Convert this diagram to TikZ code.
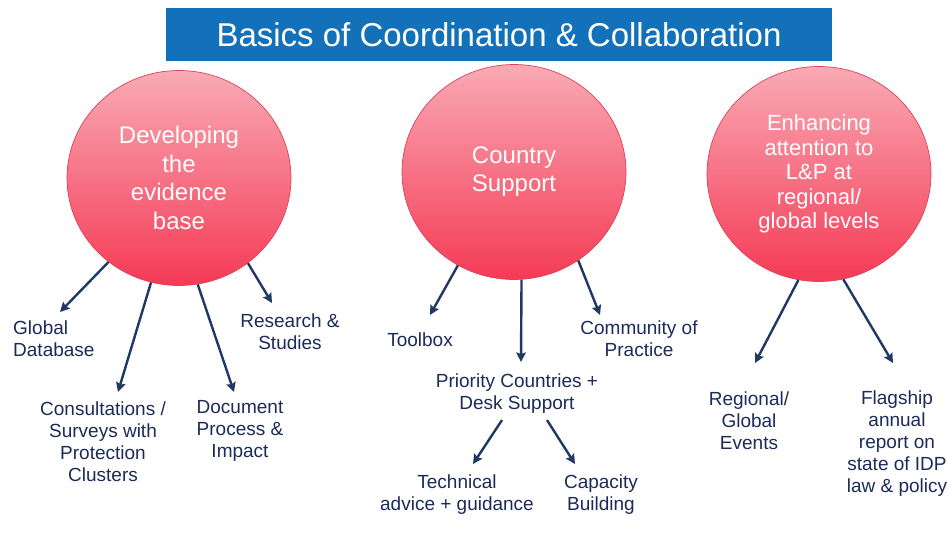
\documentclass[tikz,border=0pt]{standalone}
\usepackage{fontspec}
\setmainfont{Liberation Sans}
\usetikzlibrary{arrows.meta,shapes.geometric}

\definecolor{titleblue}{HTML}{1371B9}
\definecolor{navy}{HTML}{1C2B5A}
\definecolor{arrownavy}{HTML}{1F3864}
\definecolor{pinktop}{HTML}{F9AAB5}
\definecolor{pinkbot}{HTML}{F53A55}
\definecolor{pinkedge}{HTML}{D9435A}

\tikzset{
  titlebar/.style={fill=titleblue, text=white, minimum width=666pt, minimum height=53pt,
    inner sep=0pt, font=\fontsize{33}{36}\selectfont},
  topic/.style={ellipse, draw=pinkedge, line width=0.7pt, top color=pinktop, bottom color=pinkbot,
    minimum width=224pt, minimum height=215pt, inner sep=0pt, text=white, align=center},
  item/.style={text=navy, align=center, font=\fontsize{19}{22}\selectfont, inner sep=0pt},
  arr/.style={draw=arrownavy, line width=2.4pt, -{Stealth[length=9.5pt,width=9.5pt,inset=1.5pt]}},
}

\begin{document}
\begin{tikzpicture}[x=1pt,y=-1pt]
  \useasboundingbox (0,0) rectangle (948,549);
  \fill[white] (0,0) rectangle (948,549);

  % title bar
  \node[titlebar] (title) at (499,34.5) {Basics of Coordination \& Collaboration};

  % three topic circles
  \node[topic, font=\fontsize{24}{28.5}\selectfont] (c1) at (179,178)
    {Developing\\the\\evidence\\base};
  \node[topic, font=\fontsize{24}{28}\selectfont] (c2) at (514,172)
    {Country\\Support};
  \node[topic, font=\fontsize{22}{24.5}\selectfont] (c3) at (819,174)
    {Enhancing\\attention to\\L\&P at\\regional/\\global levels};

  % activity labels
  \node[item, anchor=west, align=left] (glob) at (13,339) {Global\\Database};
  \node[item] (cons) at (103,442) {Consultations /\\Surveys with\\Protection\\Clusters};
  \node[item] (doc)  at (240,431) {Document\\Process \&\\Impact};
  \node[item] (res)  at (290,332) {Research \&\\Studies};

  \node[item] (tool) at (420,340) {Toolbox};
  \node[item] (prio) at (517,394) {Priority Countries +\\Desk Support};
  \node[item] (comm) at (639,339) {Community of\\Practice};
  \node[item] (tech) at (457,495) {Technical\\advice + guidance};
  \node[item] (cap)  at (601,495) {Capacity\\Building};

  \node[item] (reg)  at (749,421) {Regional/\\Global\\Events};
  \node[item] (flag) at (897,444) {Flagship\\annual\\report on\\state of IDP\\law \& policy};

  % arrow tips just above each label
  \coordinate (tGlob) at (60,312);
  \coordinate (tCons) at (118,392);
  \coordinate (tDoc)  at (234,392);
  \coordinate (tRes)  at (272,303);
  \coordinate (tTool) at (430,315);
  \coordinate (tPrio) at (521,362);
  \coordinate (tComm) at (600,315);
  \coordinate (tTech) at (473,464);
  \coordinate (tCap)  at (575,464);
  \coordinate (tReg)  at (755,363);
  \coordinate (tFlag) at (893,363);

  % connectors
  \draw[arr] (c1.230.6) -- (tGlob);
  \draw[arr] (c1.255.8) -- (tCons);
  \draw[arr] (c1.-80.5) -- (tDoc);
  \draw[arr] (c1.-51.6) -- (tRes);

  \draw[arr] (c2.239)   -- (tTool);
  \draw[arr] (c2.-86.2) -- (tPrio);
  \draw[arr] (c2.-54.6) -- (tComm);
  \draw[arr] ([xshift=-15pt,yshift=-6pt]prio.south) -- (tTech);
  \draw[arr] ([xshift=30pt,yshift=-6pt]prio.south)  -- (tCap);

  \draw[arr] (c3.-101.5) -- (tReg);
  \draw[arr] (c3.-77.5)  -- (tFlag);
\end{tikzpicture}
\end{document}
